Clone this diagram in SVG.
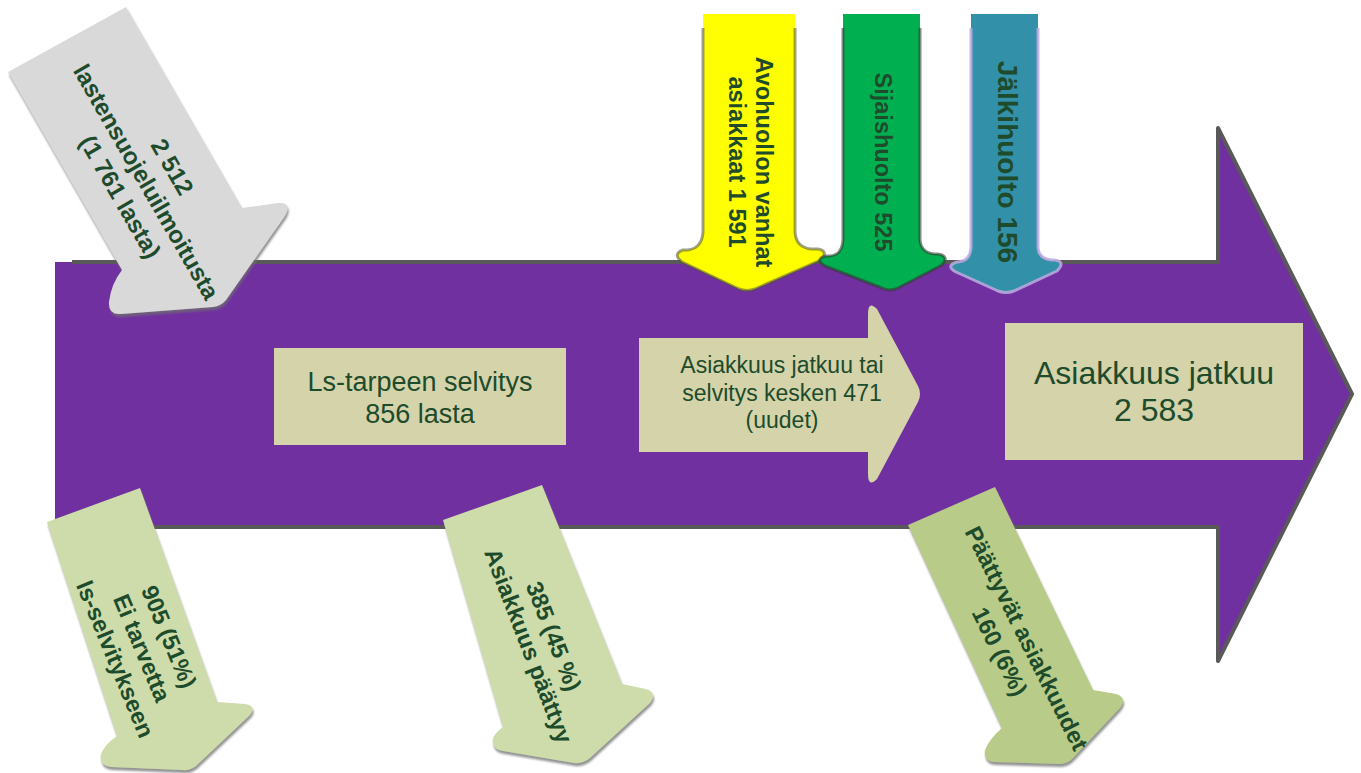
<svg xmlns="http://www.w3.org/2000/svg" width="1361" height="773" viewBox="0 0 1361 773">
<style>
.t{font-family:"Liberation Sans",Arial,sans-serif;fill:#1D4B2C}
.b{font-weight:bold;font-size:23.5px}
.r{font-weight:normal}
.box{fill:#D4D3AA}
.ol{fill:none;stroke-width:3;stroke-linejoin:round}
</style>
<defs>
<filter id="sh" x="-15%" y="-10%" width="130%" height="125%">
<feDropShadow dx="1" dy="3" stdDeviation="1.2" flood-color="#6e6e6e" flood-opacity="0.75"/>
</filter>
</defs>
<rect width="1361" height="773" fill="#FFFFFF"/>

<g id="main-arrow">
<path d="M55,262 H1218 V128 L1352,394 L1218,661 V527 H55 Z" fill="#7030A0"/>
<path d="M72,262 H1218 V128 L1352,394 L1218,661 V527 H55" fill="none" stroke="#595959" stroke-width="4" stroke-linejoin="round"/>
</g>

<g id="box-selvitys">
<rect class="box" x="274" y="348" width="292" height="97"/>
<text class="t r" font-size="27" text-anchor="middle"><tspan x="420" y="391">Ls-tarpeen selvitys</tspan><tspan x="420" y="423">856 lasta</tspan></text>
</g>

<g id="arrow-jatkuu-tai">
<path class="box" d="M639,338 H868 V314 Q868,300 877,309 L918,386 Q922,394 918,402 L877,479 Q868,488 868,474 V452 H639 Z"/>
<text class="t r" font-size="23" text-anchor="middle"><tspan x="782" y="373">Asiakkuus jatkuu tai</tspan><tspan x="782" y="401">selvitys kesken 471</tspan><tspan x="782" y="428">(uudet)</tspan></text>
</g>

<g id="box-jatkuu">
<rect class="box" x="1005" y="323" width="298" height="137"/>
<text class="t r" font-size="32" text-anchor="middle"><tspan x="1154" y="384">Asiakkuus jatkuu</tspan><tspan x="1154" y="421">2 583</tspan></text>
</g>

<g id="arrow-avohuolto">
<path d="M703,14 H795 V232 Q796,248 812,249 H818 Q829,251 821,260 L755,289 Q747,292 739,289 L682,262 Q672,254 683,250 H688 Q702,248 703,232 Z" fill="#FFFF00"/>
<path class="ol" stroke="rgba(80,80,60,0.55)" d="M703,28 V232 Q702,248 688,250 H683 Q672,254 682,262 L739,289 Q747,292 755,289 L821,260 Q829,251 818,249 H812 Q796,248 795,232 V28"/>
<text class="t b" transform="translate(756,162) rotate(90)" text-anchor="middle"><tspan x="0" y="0">Avohuollon vanhat</tspan><tspan x="0" y="27">asiakkaat 1 591</tspan></text>
</g>

<g id="arrow-sijaishuolto">
<path d="M843,14 H920 V240 Q921,253 935,254 H938 Q950,256 942,265 L898,288 Q890,292 882,288 L825,266 Q814,259 826,256 H830 Q842,255 843,240 Z" fill="#00B050"/>
<path class="ol" stroke="rgba(50,60,50,0.6)" d="M843,28 V240 Q842,255 830,256 H826 Q814,259 825,266 L882,288 Q890,292 898,288 L942,265 Q950,256 938,254 H935 Q921,253 920,240 V28"/>
<text class="t b" transform="translate(875,162) rotate(90)" text-anchor="middle"><tspan x="0" y="0">Sijaishuolto 525</tspan></text>
</g>

<g id="arrow-jalkihuolto">
<path d="M971,14 H1038 V248 Q1039,259 1052,260 H1055 Q1066,262 1057,271 L1014,291 Q1006,294 998,291 L956,272 Q945,266 957,262 H958 Q970,261 971,248 Z" fill="#3390A9"/>
<path class="ol" stroke="rgba(190,170,225,0.85)" d="M971,28 V248 Q970,261 958,262 H957 Q945,266 956,272 L998,291 Q1006,294 1014,291 L1057,271 Q1066,262 1055,260 H1052 Q1039,259 1038,248 V28"/>
<text class="t b" font-size="28" style="font-size:28px" transform="translate(998,162) rotate(90)" text-anchor="middle"><tspan x="0" y="0">Jälkihuolto 156</tspan></text>
</g>

<g id="arrow-ilmoitukset">
<path filter="url(#sh)" d="M8,72 L126,7 L242,208 L278,203 Q293,202 285,216 L226,300 Q221,306 213,307 L121,314 Q108,315 109,302 Q111,284 122,270 Z" fill="#D9D9D9"/>
<text class="t b" style="font-size:24px" transform="translate(146,182) rotate(60)" text-anchor="middle"><tspan x="0" y="-22">2 512</tspan><tspan x="0" y="8">lastensuojeluilmoitusta</tspan><tspan x="0" y="38">(1 761 lasta)</tspan></text>
</g>

<g id="arrow-ei-tarvetta">
<path filter="url(#sh)" d="M47,522 L140,488 L217,702 L245,704 Q258,706 249,716 L196,766 Q190,771 182,770 L111,767 Q99,766 101,754 Q105,744 117,736 Z" fill="#CDDCAA"/>
<text class="t b" transform="translate(142,648) rotate(67.5)" text-anchor="middle"><tspan x="0" y="-21">905 (51%)</tspan><tspan x="0" y="8">Ei tarvetta</tspan><tspan x="0" y="37">ls-selvitykseen</tspan></text>
</g>

<g id="arrow-paattyy">
<path filter="url(#sh)" d="M443,520 L542,485 L622,684 L646,689 Q658,693 650,703 L590,758 Q583,764 574,763 L503,751 Q491,749 493,738 Q496,732 503,727 Z" fill="#CDDCAA"/>
<text class="t b" transform="translate(541,641) rotate(69)" text-anchor="middle"><tspan x="0" y="-5.5">385 (45 %)</tspan><tspan x="0" y="21.5">Asiakkuus päättyy</tspan></text>
</g>

<g id="arrow-paattyvat">
<path filter="url(#sh)" d="M908,525 L995,487 L1093,690 L1116,694 Q1128,698 1120,708 L1074,757 Q1068,764 1060,764 L994,762 Q983,761 985,750 Q990,738 1002,728 Z" fill="#B8CB88"/>
<text class="t b" transform="translate(1013,645) rotate(63.5)" text-anchor="middle"><tspan x="0" y="-7">Päättyvät asiakkuudet</tspan><tspan x="0" y="23">160 (6%)</tspan></text>
</g>

<g id="connectors"></g>
</svg>
